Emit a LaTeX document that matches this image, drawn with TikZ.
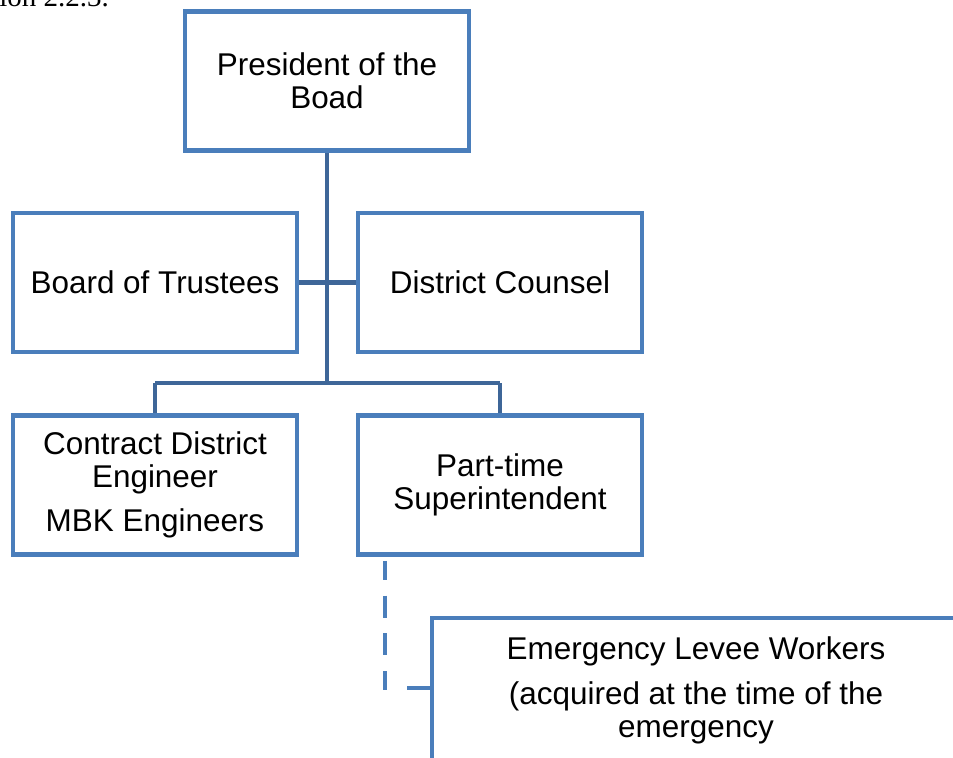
\documentclass[tikz,border=0pt]{standalone}
\usepackage{fontspec}
\setmainfont{Liberation Sans}
\newfontfamily\serifcut{Liberation Serif}
\definecolor{boxblue}{HTML}{4A7EBB}
\definecolor{linkblue}{HTML}{3E6698}
\tikzstyle{post}=[draw=boxblue,line width=2.7pt,minimum width=5.68cm,minimum height=2.78cm,align=center,inner sep=0pt,font=\fontsize{17.9}{18.7}\selectfont]
\tikzstyle{link}=[draw=linkblue,line width=2.8pt]
\tikzstyle{temp}=[draw=boxblue,line width=2.8pt,dash pattern=on 0pt off 2.3pt on 10.8pt off 9pt on 12.5pt off 9pt on 12pt off 9.6pt on 10.8pt off 11.3pt on 17pt off 10pt]

\begin{document}
\begin{tikzpicture}[x=0.02cm,y=-0.02cm]
\useasboundingbox (0,0) rectangle (953,757);
\node[font=\serifcut\fontsize{16.5}{18}\selectfont,anchor=base west,inner sep=0pt] (sec) at (-1,7) {ion 2.2.3.};

\node[post] (pres) at (327, 81) {President of the\\Boad};
\node[post] (board) at (155, 282.5) {Board of Trustees};
\node[post] (counsel) at (500, 282.5) {District Counsel};
\node[post] (eng) at (155, 485) {Contract District\\Engineer\\[6.8pt]MBK Engineers};
\node[post] (super) at (500, 485) {Part-time\\Superintendent};
\node[post,minimum width=10.56cm,minimum height=2.9cm] (levee) at (696, 690.5) {Emergency Levee Workers\\[6.8pt](acquired at the time of the\\emergency};

\coordinate (fork) at (327, 383);
\coordinate (forkl) at (155, 383);
\coordinate (forkr) at (500, 383);
\coordinate (drop) at (385, 688);

\draw[link] (pres.south) -- (fork);
\draw[link] (forkl) -- (forkr);
\draw[link] (forkl) -- (eng.north);
\draw[link] (forkr) -- (super.north);
\draw[link] (board.east) -- (counsel.west);

\draw[temp] (super.south -| drop) -- (drop) -- (levee.west |- drop);

\end{tikzpicture}
\end{document}
